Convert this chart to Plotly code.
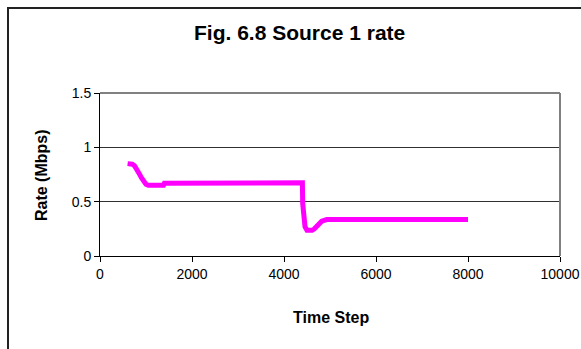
import plotly.graph_objects as go

# Source 1 sending rate over the simulation
time_step = [600, 700, 750, 800, 850, 900, 950, 1000, 1050, 1100, 1200, 1300, 1380,
             1400, 2000, 3000, 4000, 4400,
             4406, 4420, 4457, 4500, 4560, 4610, 4660, 4710, 4760, 4820, 4930,
             5000, 6000, 7000, 8000]
rate_mbps = [0.85, 0.845, 0.83, 0.80, 0.76, 0.72, 0.68, 0.66, 0.65, 0.65, 0.65, 0.65, 0.65,
             0.67, 0.67, 0.67, 0.67, 0.673,
             0.485, 0.40, 0.27, 0.236, 0.232, 0.236, 0.25, 0.27, 0.30, 0.32, 0.335,
             0.335, 0.335, 0.335, 0.335]

x_ticks = [0, 2000, 4000, 6000, 8000, 10000]
y_ticks = [0, 0.5, 1, 1.5]

W, H = 581, 349
L, R, T, B = 100, 21, 93, 93
pw, ph = W - L - R, H - T - B

def px(x):
    return (x - L) / pw

def py(y):
    return (H - B - y) / ph

FONT = "Liberation Sans, Arial, sans-serif"

fig = go.Figure(go.Scatter(
    x=time_step, y=rate_mbps, mode="lines",
    line=dict(color="#FF00FF", width=5),
    hoverinfo="skip", showlegend=False,
))

fig.update_layout(
    width=W, height=H,
    margin=dict(l=L, r=R, t=T, b=B, autoexpand=False),
    paper_bgcolor="white", plot_bgcolor="white",
    font=dict(family=FONT, size=14, color="black"),
    showlegend=False,
    xaxis=dict(
        range=[0, 10000], tickvals=x_ticks, ticktext=[str(v) for v in x_ticks],
        showgrid=False, zeroline=False, automargin=False,
        showline=True, linecolor="black", linewidth=1,
        ticks="outside", ticklen=5, tickcolor="black",
        tickfont=dict(size=14), fixedrange=True,
    ),
    yaxis=dict(
        range=[0, 1.5], tickvals=y_ticks, ticktext=["0", "0.5", "1", "1.5"],
        showgrid=True, gridcolor="#303030", gridwidth=1, zeroline=False,
        automargin=False,
        showline=True, linecolor="black", linewidth=1,
        ticks="outside", ticklen=5, tickcolor="black",
        tickfont=dict(size=14), fixedrange=True,
    ),
    shapes=[
        # plot-area frame (top and right edges in grey)
        dict(type="line", xref="paper", yref="paper", x0=0, x1=1, y0=1, y1=1,
             line=dict(color="#808080", width=2)),
        dict(type="line", xref="paper", yref="paper", x0=1, x1=1, y0=0, y1=1,
             line=dict(color="#808080", width=2)),
        # chart-area border: left and top edges, running off the canvas
        dict(type="line", xref="paper", yref="paper",
             x0=px(8), x1=px(8), y0=py(H), y1=py(8),
             line=dict(color="#222222", width=2), layer="above"),
        dict(type="line", xref="paper", yref="paper",
             x0=px(7), x1=px(W), y0=py(8), y1=py(8),
             line=dict(color="#222222", width=2), layer="above"),
    ],
    annotations=[
        dict(text="<b>Fig. 6.8 Source 1 rate</b>", xref="paper", yref="paper",
             x=px(299), y=py(33), xanchor="center", yanchor="middle",
             showarrow=False, font=dict(size=21)),
        dict(text="<b>Time Step</b>", xref="paper", yref="paper",
             x=px(331), y=py(317), xanchor="center", yanchor="middle",
             showarrow=False, font=dict(size=16)),
        dict(text="<b>Rate (Mbps)</b>", xref="paper", yref="paper",
             x=px(41), y=py(175), xanchor="center", yanchor="middle",
             textangle=-90, showarrow=False, font=dict(size=16)),
    ],
)

fig.write_html("out.html", config={"displayModeBar": False})
